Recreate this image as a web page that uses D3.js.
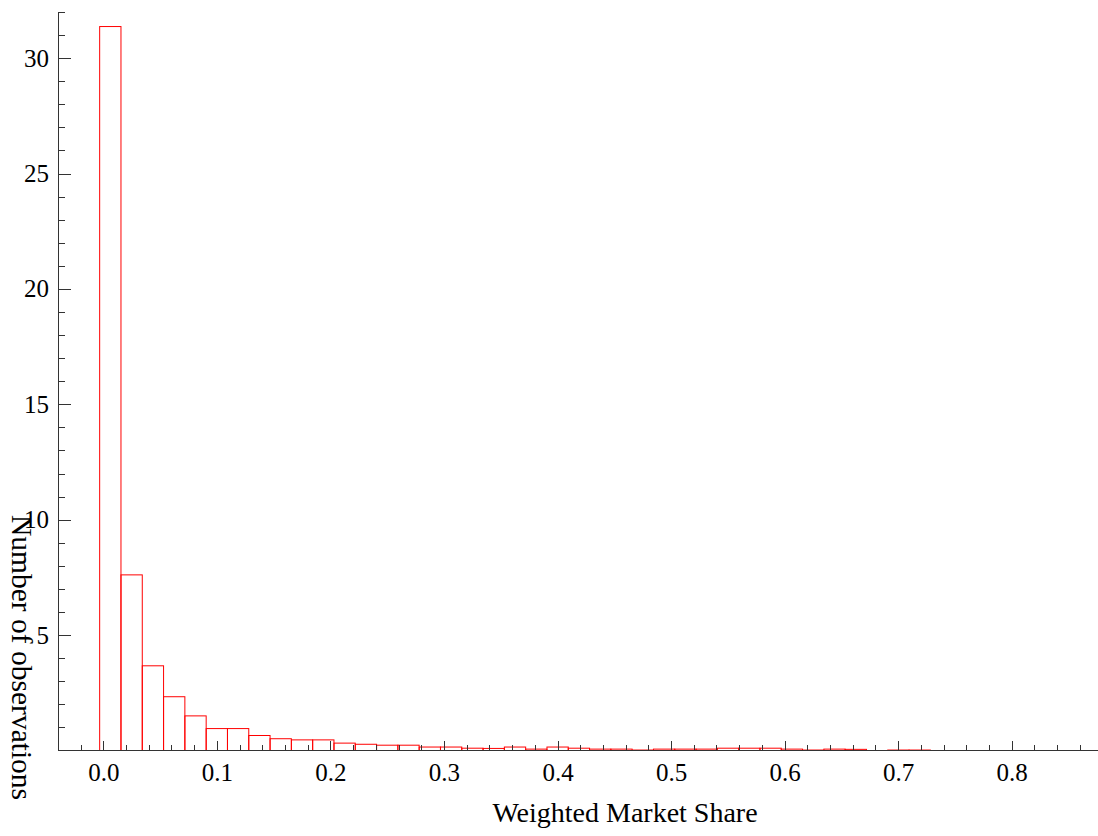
<!DOCTYPE html>
<html lang="en">
<head>
    <meta charset="UTF-8">
    <title>Weighted Market Share histogram</title>
    <style>
        body { margin: 0; background: #fff; }
        svg { display: block; }
        .bar { fill: none; stroke: #ff0000; stroke-width: 1; }
        .axis path, .axis line { stroke: #333; shape-rendering: crispEdges; }
        .axis text, .label { font-family: "Liberation Serif", "Times New Roman", serif; fill: #000; }
    </style>
</head>
<body>
    <svg id="chart" width="1098" height="836"></svg>

    <script src="https://d3js.org/d3.v7.min.js"></script>
    <script>
        // histogram: lower edge of the first bin and the common bin width
        const binStart = -0.0032;
        const binWidth = 0.018758;
        const counts = [
            31.37, 7.61, 3.67, 2.33, 1.50, 0.95, 0.95, 0.65, 0.51, 0.46,
            0.46, 0.32, 0.27, 0.23, 0.23, 0.15, 0.15, 0.10, 0.09, 0.15,
            0.06, 0.15, 0.10, 0.06, 0.06, 0.02, 0.06, 0.06, 0.06, 0.10,
            0.10, 0.10, 0.06, 0.02, 0.06, 0.05, 0, 0.02, 0.02
        ];

        const xMajorTicks = [0, 0.1, 0.2, 0.3, 0.4, 0.5, 0.6, 0.7, 0.8];
        const yMajorTicks = [5, 10, 15, 20, 25, 30];
        const xLabel = 'Weighted Market Share';
        const yLabel = 'Number of observations';

        const width = 1098;
        const height = 836;
        const svg = d3.select('#chart');

        const x = d3.scaleLinear().domain([0, 0.8]).range([103.3, 1011.7]);
        const y = d3.scaleLinear().domain([0, 32]).range([750.5, 12]);

        const bins = counts.map((c, i) => ({
            x0: binStart + i * binWidth,
            x1: binStart + (i + 1) * binWidth,
            count: c
        }));

        // bars (outline only, axes go on top)
        svg.append('g')
            .selectAll('rect')
            .data(bins.filter(d => d.count > 0))
            .enter().append('rect')
            .attr('class', 'bar')
            .attr('x', d => x(d.x0))
            .attr('width', d => x(d.x1) - x(d.x0))
            .attr('y', d => y(d.count))
            .attr('height', d => y(0) - y(d.count));

        // x axis: minor ticks, then major ticks with labels
        const xMinor = d3.range(-0.04, 0.87, 0.02).filter(v => Math.abs(Math.round(v * 10) - v * 10) > 1e-6);
        svg.append('g')
            .attr('class', 'axis')
            .attr('transform', `translate(0,${y(0)})`)
            .call(d3.axisBottom(x).tickValues(xMinor).tickSize(-6).tickFormat(''))
            .call(g => g.select('.domain').remove());

        svg.append('g')
            .attr('class', 'axis')
            .attr('transform', `translate(0,${y(0)})`)
            .call(d3.axisBottom(x).tickValues(xMajorTicks).tickSize(-10).tickPadding(12.5)
                .tickFormat(d3.format('.1f')))
            .call(g => g.select('.domain').remove())
            .call(g => g.selectAll('text').attr('font-size', 25)
                .style('font-family', '"Liberation Serif", serif'));

        // y axis: minor ticks, then major ticks with labels
        const yMinor = d3.range(1, 33).filter(v => v % 5 !== 0);
        svg.append('g')
            .attr('class', 'axis')
            .attr('transform', 'translate(58.5,0)')
            .call(d3.axisLeft(y).tickValues(yMinor).tickSize(-6).tickFormat(''))
            .call(g => g.select('.domain').remove());

        svg.append('g')
            .attr('class', 'axis')
            .attr('transform', 'translate(58.5,0)')
            .call(d3.axisLeft(y).tickValues(yMajorTicks).tickSize(-12).tickPadding(9.5))
            .call(g => g.select('.domain').remove())
            .call(g => g.selectAll('text').attr('font-size', 25)
                .style('font-family', '"Liberation Serif", serif'));

        // axis lines
        svg.append('line')
            .attr('x1', 58).attr('x2', width)
            .attr('y1', y(0)).attr('y2', y(0))
            .attr('stroke', '#333');
        svg.append('line')
            .attr('x1', 58.5).attr('x2', 58.5)
            .attr('y1', y(32)).attr('y2', y(0))
            .attr('stroke', '#333');

        // axis titles
        svg.append('text')
            .attr('class', 'label')
            .attr('x', 625).attr('y', 822)
            .attr('text-anchor', 'middle')
            .attr('font-size', 28)
            .text(xLabel);

        svg.append('text')
            .attr('class', 'label')
            .attr('transform', 'translate(12,515) rotate(90)')
            .attr('font-size', 29.5)
            .text(yLabel);
    </script>
</body>
</html>
